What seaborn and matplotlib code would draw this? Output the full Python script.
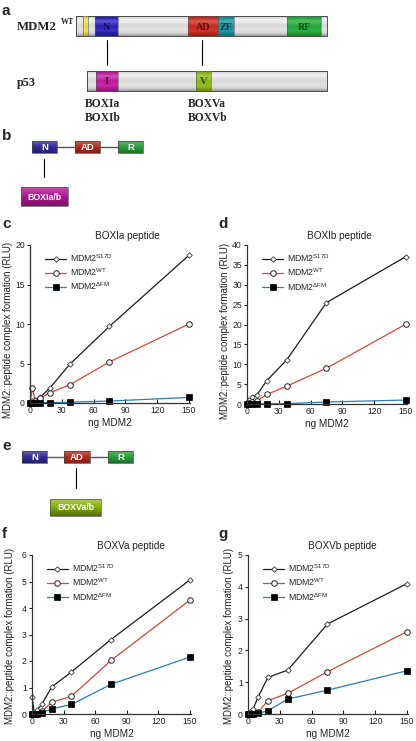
import matplotlib
matplotlib.use('Agg')
import matplotlib.pyplot as plt
import matplotlib.colors as mcolors
import numpy as np
import pandas as pd
import seaborn as sns
from matplotlib.patches import Rectangle

sns.set_theme(style='ticks')
plt.rcParams['font.family'] = ['Liberation Sans', 'DejaVu Sans']
plt.rcParams['mathtext.fontset'] = 'custom'
plt.rcParams['mathtext.rm'] = 'Liberation Sans'
plt.rcParams['mathtext.it'] = 'Liberation Sans:italic'
plt.rcParams['mathtext.bf'] = 'Liberation Sans:bold'

W, H = 416, 741

# ---------- data ----------
dose = [0, 2.34, 4.69, 9.38, 18.75, 37.5, 75, 150]

boxIa_s17d = [0, 0.2, 0.4, 0.7, 1.9, 4.9, 9.7, 18.7]
boxIa_wt = [0, 1.9, 0.3, 0.6, 1.3, 2.3, 5.2, 10.0]
boxIa_dfm = [0, 0, 0, 0.05, 0.05, 0.1, 0.25, 0.7]

boxIb_s17d = [0, 0.9, 1.7, 2.3, 5.9, 11.1, 25.5, 37.1]
boxIb_wt = [0, 0.3, 0.5, 0.8, 2.4, 4.5, 9.0, 20.1]
boxIb_dfm = [0, 0, 0, 0.05, 0.05, 0.1, 0.5, 1.0]

boxVa_s17d = [0.65, 0.0, 0.15, 0.37, 1.02, 1.59, 2.81, 5.06]
boxVa_wt = [0, 0, 0, 0.1, 0.44, 0.67, 2.02, 4.3]
boxVa_dfm = [0, 0, 0, 0.05, 0.19, 0.36, 1.12, 2.15]

boxVb_s17d = [0, 0.05, 0.15, 0.52, 1.15, 1.38, 2.83, 4.1]
boxVb_wt = [0, 0, 0, 0.05, 0.42, 0.65, 1.33, 2.59]
boxVb_dfm = [0, 0, 0, 0.02, 0.1, 0.47, 0.75, 1.36]

series_labels = [r'MDM2$^{\mathrm{S17D}}$', r'MDM2$^{\mathrm{WT}}$', r'MDM2$^{\mathrm{\Delta FM}}$']
x_ticks = [0, 30, 60, 90, 120, 150]

# schematic domains (name, start, end, colour) along the protein bars
mdm2_domains = [('', 83, 88, '#e4e23c'), ('N', 95, 118, '#2a1fb8'), ('AD', 188, 218, '#c9281d'),
                ('ZF', 218, 234, '#13909c'), ('RF', 287, 321, '#20a83a')]
p53_domains = [('I', 96, 118, '#c0189c'), ('V', 196, 211, '#8db514')]
mini_domains = [('N', '#342a96'), ('AD', '#b42a20'), ('R', '#2b9d3c')]


def shade(rgb, prof_t, prof_v, n=64):
    t = np.linspace(0, 1, n)
    s = np.interp(t, prof_t, prof_v)[:, None]
    base = np.array(mcolors.to_rgb(rgb))[None, :]
    img = np.where(s <= 1, base * s, base + (1 - base) * (s - 1))
    return np.clip(img, 0, 1)[:, None, :]


def shaded_box(ax, x0, x1, y0, y1, rgb, prof_t, prof_v, edge='#333333', lw=0.6, z=2):
    ax.imshow(shade(rgb, prof_t, prof_v), extent=(x0, x1, y1, y0), aspect='auto',
              interpolation='bilinear', zorder=z)
    ax.add_patch(Rectangle((x0, y0), x1 - x0, y1 - y0, fill=False, ec=edge, lw=lw, zorder=z + 0.1))


fig = plt.figure(figsize=(W / 100, H / 100), dpi=100)

# overlay axes in pixel units for the schematics
ov = fig.add_axes([0, 0, 1, 1])
ov.patch.set_visible(False)

bar_t, bar_v = [0, .2, .45, .7, 1], [0.85, 1.7, 1.05, 1.3, 0.72]
dom_t, dom_v = [0, .25, .5, .75, 1], [0.85, 1.25, 1.0, 1.08, 0.75]
box_t, box_v = [0, .5, 1], [1.25, 1.0, 0.72]
dark = {'N': '#140c5c', 'AD': '#5c0c08', 'ZF': '#083c44', 'RF': '#0c5018', 'I': '#4c0838', 'V': '#344806'}

# panel a
shaded_box(ov, 76, 327, 16, 36, '#d6d6d6', bar_t, bar_v, z=2)
for name, s, e, c in mdm2_domains:
    shaded_box(ov, s, e, 16, 36, c, dom_t, dom_v, edge='#555555', lw=0.4, z=3)
    if name:
        ov.text((s + e) / 2, 27, name, ha='center', va='center', fontsize=7.2, fontweight='bold',
                family='Liberation Serif', color=dark[name], zorder=5)
shaded_box(ov, 87, 327, 71, 91, '#d6d6d6', bar_t, bar_v, z=2)
for name, s, e, c in p53_domains:
    shaded_box(ov, s, e, 71, 91, c, dom_t, dom_v, edge='#555555', lw=0.4, z=3)
    ov.text((s + e) / 2, 82, name, ha='center', va='center', fontsize=7.5, fontweight='bold',
            family='Liberation Serif', color=dark[name], zorder=5)
ov.plot([107, 107], [40, 65], color='black', lw=0.8)
ov.plot([202, 202], [40, 65], color='black', lw=0.8)
ov.text(17, 29.5, 'MDM2', fontsize=9.3, fontweight='bold', family='Liberation Serif', va='baseline')
ov.text(61, 24.5, 'WT', fontsize=5.8, fontweight='bold', family='Liberation Serif', va='baseline')
ov.text(17, 86, 'p53', fontsize=8.8, fontweight='bold', family='Liberation Serif', va='baseline')
for xx, lab in [(85, 'BOXIa'), (188, 'BOXVa')]:
    ov.text(xx, 107, lab, fontsize=8.3, fontweight='bold', family='Liberation Serif', va='baseline')
for xx, lab in [(85, 'BOXIb'), (188, 'BOXVb')]:
    ov.text(xx, 121, lab, fontsize=8.3, fontweight='bold', family='Liberation Serif', va='baseline')


def mini_chain(y0, y1, xs):
    ym = (y0 + y1) / 2
    ov.plot([xs[0][1], xs[1][0]], [ym, ym], color='#555555', lw=1.0, zorder=1)
    ov.plot([xs[1][1], xs[2][0]], [ym, ym], color='#555555', lw=1.0, zorder=1)
    for (name, c), (s, e) in zip(mini_domains, xs):
        shaded_box(ov, s, e, y0, y1, c, box_t, box_v, edge='#444444', lw=0.5, z=3)
        ov.text((s + e) / 2, ym + 0.5, name, ha='center', va='center', fontsize=6.8,
                fontweight='bold', color='white', zorder=5)


# panel b
mini_chain(141, 153, [(32, 57), (75, 100), (118, 143)])
ov.plot([44, 44], [159, 177], color='black', lw=0.8)
shaded_box(ov, 21, 68, 187, 206, '#b0168f', box_t, box_v, edge='#555555', lw=0.5, z=3)
ov.text(44.5, 197, 'BOXIa/b', ha='center', va='center', fontsize=6.3, fontweight='bold', color='white', zorder=5)

# panel e
mini_chain(451, 463, [(22, 47), (64, 90), (108, 133)])
ov.plot([76, 76], [468, 488], color='black', lw=0.8)
shaded_box(ov, 50, 101, 499, 516, '#86ad00', box_t, [1.35, 1.0, 0.62], edge='#555555', lw=0.5, z=3)
ov.text(75.5, 507.5, 'BOXVa/b', ha='center', va='center', fontsize=6.3, fontweight='bold', color='white', zorder=5)

ov.set_xlim(0, W)
ov.set_ylim(H, 0)
ov.axis('off')

# panel letters
for lab, xx, yy in [('a', 2, 15), ('b', 2, 140), ('c', 2, 228), ('d', 218, 228),
                    ('e', 2, 450), ('f', 2, 538), ('g', 218, 538)]:
    fig.text(xx / W, 1 - yy / H, lab, fontsize=11, fontweight='bold', va='baseline', ha='left')


def px_axes(l, r, top, bot):
    return fig.add_axes([l / W, 1 - bot / H, (r - l) / W, (bot - top) / H])


styles = [
    dict(color='#1c1c1c', marker='D', markersize=2.8, markerfacecolor='white', markeredgecolor='#333333', markeredgewidth=0.6),
    dict(color='#d5473c', marker='o', markersize=4.0, markerfacecolor='white', markeredgecolor='#222222', markeredgewidth=0.7),
    dict(color='#2c7db3', marker='s', markersize=4.0, markerfacecolor='black', markeredgecolor='black', markeredgewidth=0.5),
]

panels = [
    ('BOXIa peptide', (30, 190, 245, 403), 20, 5, [boxIa_s17d, boxIa_wt, boxIa_dfm], 0.61, 0.46, -0.105),
    ('BOXIb peptide', (247, 407, 245, 404), 40, 5, [boxIb_s17d, boxIb_wt, boxIb_dfm], 0.575, 0.46, -0.105),
    ('BOXVa peptide', (32, 191, 555, 714), 6, 1, [boxVa_s17d, boxVa_wt, boxVa_dfm], 0.625, 0.49, -0.11),
    ('BOXVb peptide', (248, 408, 555, 714), 5, 1, [boxVb_s17d, boxVb_wt, boxVb_dfm], 0.59, 0.49, -0.09),
]

for title, (l, r, top, bot), ymax, ystep, vals, tx, ly, lx in panels:
    ax = px_axes(l, r, top, bot)
    for v, lab, st in zip(vals, series_labels, styles):
        df = pd.DataFrame({'ng': dose, 'rlu': v})
        sns.lineplot(data=df, x='ng', y='rlu', ax=ax, label=lab, linewidth=0.9,
                     clip_on=False, **st)
    ax.set_xlim(0, 151)
    ax.set_ylim(0, ymax)
    ax.set_xticks(x_ticks)
    ax.set_yticks(np.arange(0, ymax + 0.01, ystep))
    ax.tick_params(axis='x', direction='in', length=3, width=0.8, pad=2.5, labelsize=6.2, colors='#222222')
    ax.tick_params(axis='y', direction='out', length=2.5, width=0.8, pad=1.2, labelsize=6.2, colors='#222222')
    sns.despine(ax=ax)
    for sp in ['left', 'bottom']:
        ax.spines[sp].set_linewidth(0.9)
        ax.spines[sp].set_color('#333333')
    ax.set_xlabel('ng MDM2', fontsize=7.2, color='#222222')
    ax.set_ylabel('MDM2::peptide complex formation (RLU)', fontsize=7.0, color='#222222')
    ax.xaxis.set_label_coords(0.5, -0.095)
    ax.yaxis.set_label_coords(lx, ly)
    ax.text(tx, 1.058, title, transform=ax.transAxes, ha='center', va='center', fontsize=7.2, color='#222222')
    ax.legend(loc='upper left', bbox_to_anchor=(0.094, 0.955), frameon=False, fontsize=6.3,
              handlelength=2.4, handletextpad=0.5, labelspacing=0.3, borderpad=0, borderaxespad=0)

fig.savefig('out.png', dpi=100)
